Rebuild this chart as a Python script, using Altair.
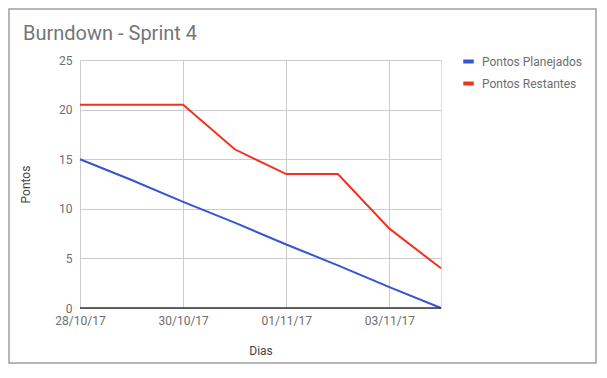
import altair as alt
import pandas as pd

dates = ["2017-10-28", "2017-10-29", "2017-10-30", "2017-10-31",
         "2017-11-01", "2017-11-02", "2017-11-03", "2017-11-04"]
planejados = [15, 12.9, 10.7, 8.6, 6.4, 4.3, 2.1, 0]
restantes = [20.5, 20.5, 20.5, 16, 13.5, 13.5, 8, 4]
series_names = ["Pontos Planejados", "Pontos Restantes"]
series_colors = ["#3556d0", "#f0321f"]
x_ticks = ["2017-10-28", "2017-10-30", "2017-11-01", "2017-11-03"]
y_ticks = [0, 5, 10, 15, 20, 25]
title_text = "Burndown - Sprint 4"

rows = []
for d, v in zip(dates, planejados):
    rows.append({"Dia": d, "Pontos": v, "Serie": series_names[0]})
for d, v in zip(dates, restantes):
    rows.append({"Dia": d, "Pontos": v, "Serie": series_names[1]})
df = pd.DataFrame(rows)

FONT = "Roboto"
TXT = "#6e6e6e"

def dt(s):
    y, m, d = map(int, s.split("-"))
    return alt.DateTime(year=y, month=m, date=d, utc=True)

x_enc = alt.X(
    "Dia:T",
    title="Dias",
    scale=alt.Scale(type="utc", domain=[dt(dates[0]), dt(dates[-1])], nice=False),
    axis=alt.Axis(
        values=[dt(s) for s in x_ticks],
        format="%d/%m/%y", labelFlush=False,
        grid=True, gridColor="#cccccc", domain=False, ticks=False,
        labelPadding=7, labelFontSize=12, labelColor=TXT, labelFont=FONT,
        titleFontSize=12, titleColor="#444444", titleFont=FONT,
        titleFontWeight="normal", titlePadding=19,
    ),
)

lines = alt.Chart(df).mark_line(strokeWidth=2, clip=False).encode(
    x=x_enc,
    y=alt.Y(
        "Pontos:Q",
        title="Pontos",
        scale=alt.Scale(domain=[0, 25], nice=False),
        axis=alt.Axis(
            values=y_ticks, grid=True, gridColor="#cccccc", domain=False,
            ticks=False, labelPadding=8, labelFontSize=12, labelColor=TXT,
            labelFont=FONT, titleFontSize=12, titleColor="#444444",
            titleFont=FONT, titleFontWeight="normal", titlePadding=26,
        ),
    ),
    color=alt.Color(
        "Serie:N",
        scale=alt.Scale(domain=series_names, range=series_colors),
        legend=alt.Legend(
            title=None, orient="none", legendX=381, legendY=-6,
            symbolType="stroke", symbolStrokeWidth=4, symbolSize=110,
            labelFontSize=12, labelColor=TXT, labelFont=FONT,
            rowPadding=5, labelOffset=6,
        ),
    ),
)

one_df = pd.DataFrame({"y": [0], "t": [title_text]})
baseline = alt.Chart(one_df).mark_rule(color="#333333", strokeWidth=1.5).encode(
    y=alt.Y("y:Q", scale=alt.Scale(domain=[0, 25], nice=False)),
)

title = alt.Chart(one_df).mark_text(
    align="left", baseline="alphabetic", fontSize=20, font=FONT,
    color="#757575", clip=False
).encode(x=alt.value(-57), y=alt.value(-20), text="t:N")

border = alt.Chart(one_df).mark_rect(
    fill=None, stroke="#9e9e9e", strokeWidth=1.5, clip=False
).encode(
    x=alt.value(-71), x2=alt.value(516), y=alt.value(-51), y2=alt.value(303)
)

chart = alt.layer(border, title, lines, baseline).properties(
    width=361,
    height=248,
    padding={"left": 72, "top": 52, "right": 156, "bottom": 56},
    autosize=alt.AutoSizeParams(type="none"),
).configure_view(stroke=None).configure(background="white")

chart.save("out.html", embed_options={"renderer": "svg", "actions": False})
